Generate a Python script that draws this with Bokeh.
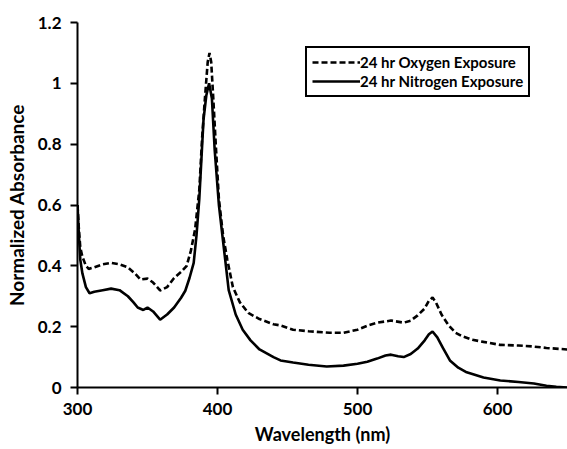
from bokeh.plotting import figure
from bokeh.models import Legend, LegendItem, Range1d, FixedTicker
from bokeh.embed import file_html
from bokeh.resources import INLINE

# Oxygen exposure (dashed)
oxy_wl = [300, 301, 302, 303.5, 306, 308, 312, 318, 324, 330, 336, 341, 345, 350, 354, 359,
          364, 369, 374, 378, 381, 384, 387, 389, 391, 393, 394.3, 395.5, 397, 399, 401, 404,
          407, 411, 416, 422, 430, 440, 445, 454, 465, 480, 490, 500, 508, 514, 524, 533, 538,
          543, 548, 551, 553.6, 556, 560, 565, 570, 575, 582, 590, 602, 615, 625, 635, 650]
oxy_abs = [0.60, 0.52, 0.46, 0.43, 0.40, 0.39, 0.395, 0.405, 0.41, 0.405, 0.395, 0.375, 0.355,
           0.358, 0.345, 0.319, 0.33, 0.36, 0.38, 0.40, 0.45, 0.52, 0.65, 0.82, 0.95, 1.07, 1.10,
           1.07, 0.95, 0.78, 0.62, 0.50, 0.42, 0.33, 0.28, 0.245, 0.225, 0.208, 0.204, 0.19,
           0.185, 0.18, 0.18, 0.19, 0.205, 0.213, 0.22, 0.213, 0.22, 0.237, 0.26, 0.285, 0.296,
           0.28, 0.24, 0.205, 0.18, 0.168, 0.157, 0.15, 0.14, 0.138, 0.135, 0.13, 0.125]

# Nitrogen exposure (solid)
nit_wl = [300, 301, 302, 303.5, 306, 308.6, 312, 318, 324, 330, 336, 340, 343, 347, 350, 354,
          359, 364, 369, 374, 377, 380, 383, 385, 387, 390, 392, 394, 396, 398, 401, 404, 408,
          413, 418, 423.6, 430, 440, 445, 454, 465, 478, 490, 500, 507, 514, 520, 524, 529, 533,
          538, 543, 548, 551, 553.6, 557, 561, 566, 572, 578, 590, 602, 615, 626, 635, 642, 650]
nit_abs = [0.60, 0.50, 0.42, 0.375, 0.33, 0.31, 0.315, 0.32, 0.325, 0.32, 0.30, 0.28, 0.263,
           0.255, 0.263, 0.25, 0.223, 0.24, 0.263, 0.295, 0.318, 0.36, 0.41, 0.50, 0.62, 0.88,
           0.96, 1.00, 0.95, 0.78, 0.60, 0.48, 0.32, 0.24, 0.19, 0.155, 0.125, 0.10, 0.089,
           0.082, 0.075, 0.069, 0.072, 0.078, 0.085, 0.095, 0.105, 0.108, 0.103, 0.10, 0.11,
           0.128, 0.155, 0.175, 0.184, 0.165, 0.13, 0.089, 0.065, 0.05, 0.033, 0.023, 0.018,
           0.013, 0.006, 0.002, 0.0]

x_ticks = [300, 400, 500, 600]
y_ticks = [0, 0.2, 0.4, 0.6, 0.8, 1.0, 1.2]
y_tick_labels = ["0", "0.2", "0.4", "0.6", "0.8", "1", "1.2"]
legend_labels = ["24 hr Oxygen Exposure", "24 hr Nitrogen Exposure"]

FONT = "Lato"

p = figure(width=567, height=449, output_backend="svg", toolbar_location=None,
           x_range=Range1d(300, 650), y_range=Range1d(0, 1.2),
           min_border_left=77, min_border_right=0, min_border_top=22, min_border_bottom=62)
p.outline_line_color = None
p.grid.visible = False
p.background_fill_color = "white"

r_oxy = p.line(oxy_wl, oxy_abs, line_color="black", line_width=2.6, line_dash="6 3")
r_nit = p.line(nit_wl, nit_abs, line_color="black", line_width=2.6)

for ax in (p.xaxis[0], p.yaxis[0]):
    ax.axis_line_width = 2
    ax.axis_line_color = "black"
    ax.major_tick_line_width = 2
    ax.major_tick_line_color = "black"
    ax.major_tick_in = 0
    ax.major_tick_out = 7
    ax.minor_tick_line_color = None
    ax.major_label_text_font = FONT
    ax.major_label_text_font_style = "bold"
    ax.major_label_text_font_size = "17px"
    ax.major_label_text_color = "black"
    ax.axis_label_text_font = FONT
    ax.axis_label_text_font_style = "bold"
    ax.axis_label_text_font_size = "18px"
    ax.axis_label_text_color = "black"

p.yaxis.axis_label_text_font_size = "19px"
p.xaxis.ticker = FixedTicker(ticks=x_ticks)
p.yaxis.ticker = FixedTicker(ticks=y_ticks)
p.yaxis.major_label_overrides = {t: l for t, l in zip(y_ticks, y_tick_labels)}
p.xaxis.major_label_standoff = 8
p.yaxis.major_label_standoff = 9
p.xaxis.axis_label = "Wavelength (nm)"
p.yaxis.axis_label = "Normalized Absorbance"
p.xaxis.axis_label_standoff = 5
p.yaxis.axis_label_standoff = 7

legend = Legend(items=[LegendItem(label=legend_labels[0], renderers=[r_oxy]),
                       LegendItem(label=legend_labels[1], renderers=[r_nit])],
                location=(228, 290))
legend.border_line_color = "black"
legend.border_line_width = 2
legend.border_line_alpha = 1
legend.background_fill_color = "white"
legend.background_fill_alpha = 1
legend.label_text_font = FONT
legend.label_text_font_style = "bold"
legend.label_text_font_size = "15px"
legend.label_text_color = "black"
legend.glyph_width = 48
legend.glyph_height = 18
legend.label_height = 18
legend.label_standoff = 0
legend.spacing = 1
legend.padding = 5
legend.margin = 0
p.add_layout(legend, "center")

open("out.html", "w").write(file_html(p, INLINE))
